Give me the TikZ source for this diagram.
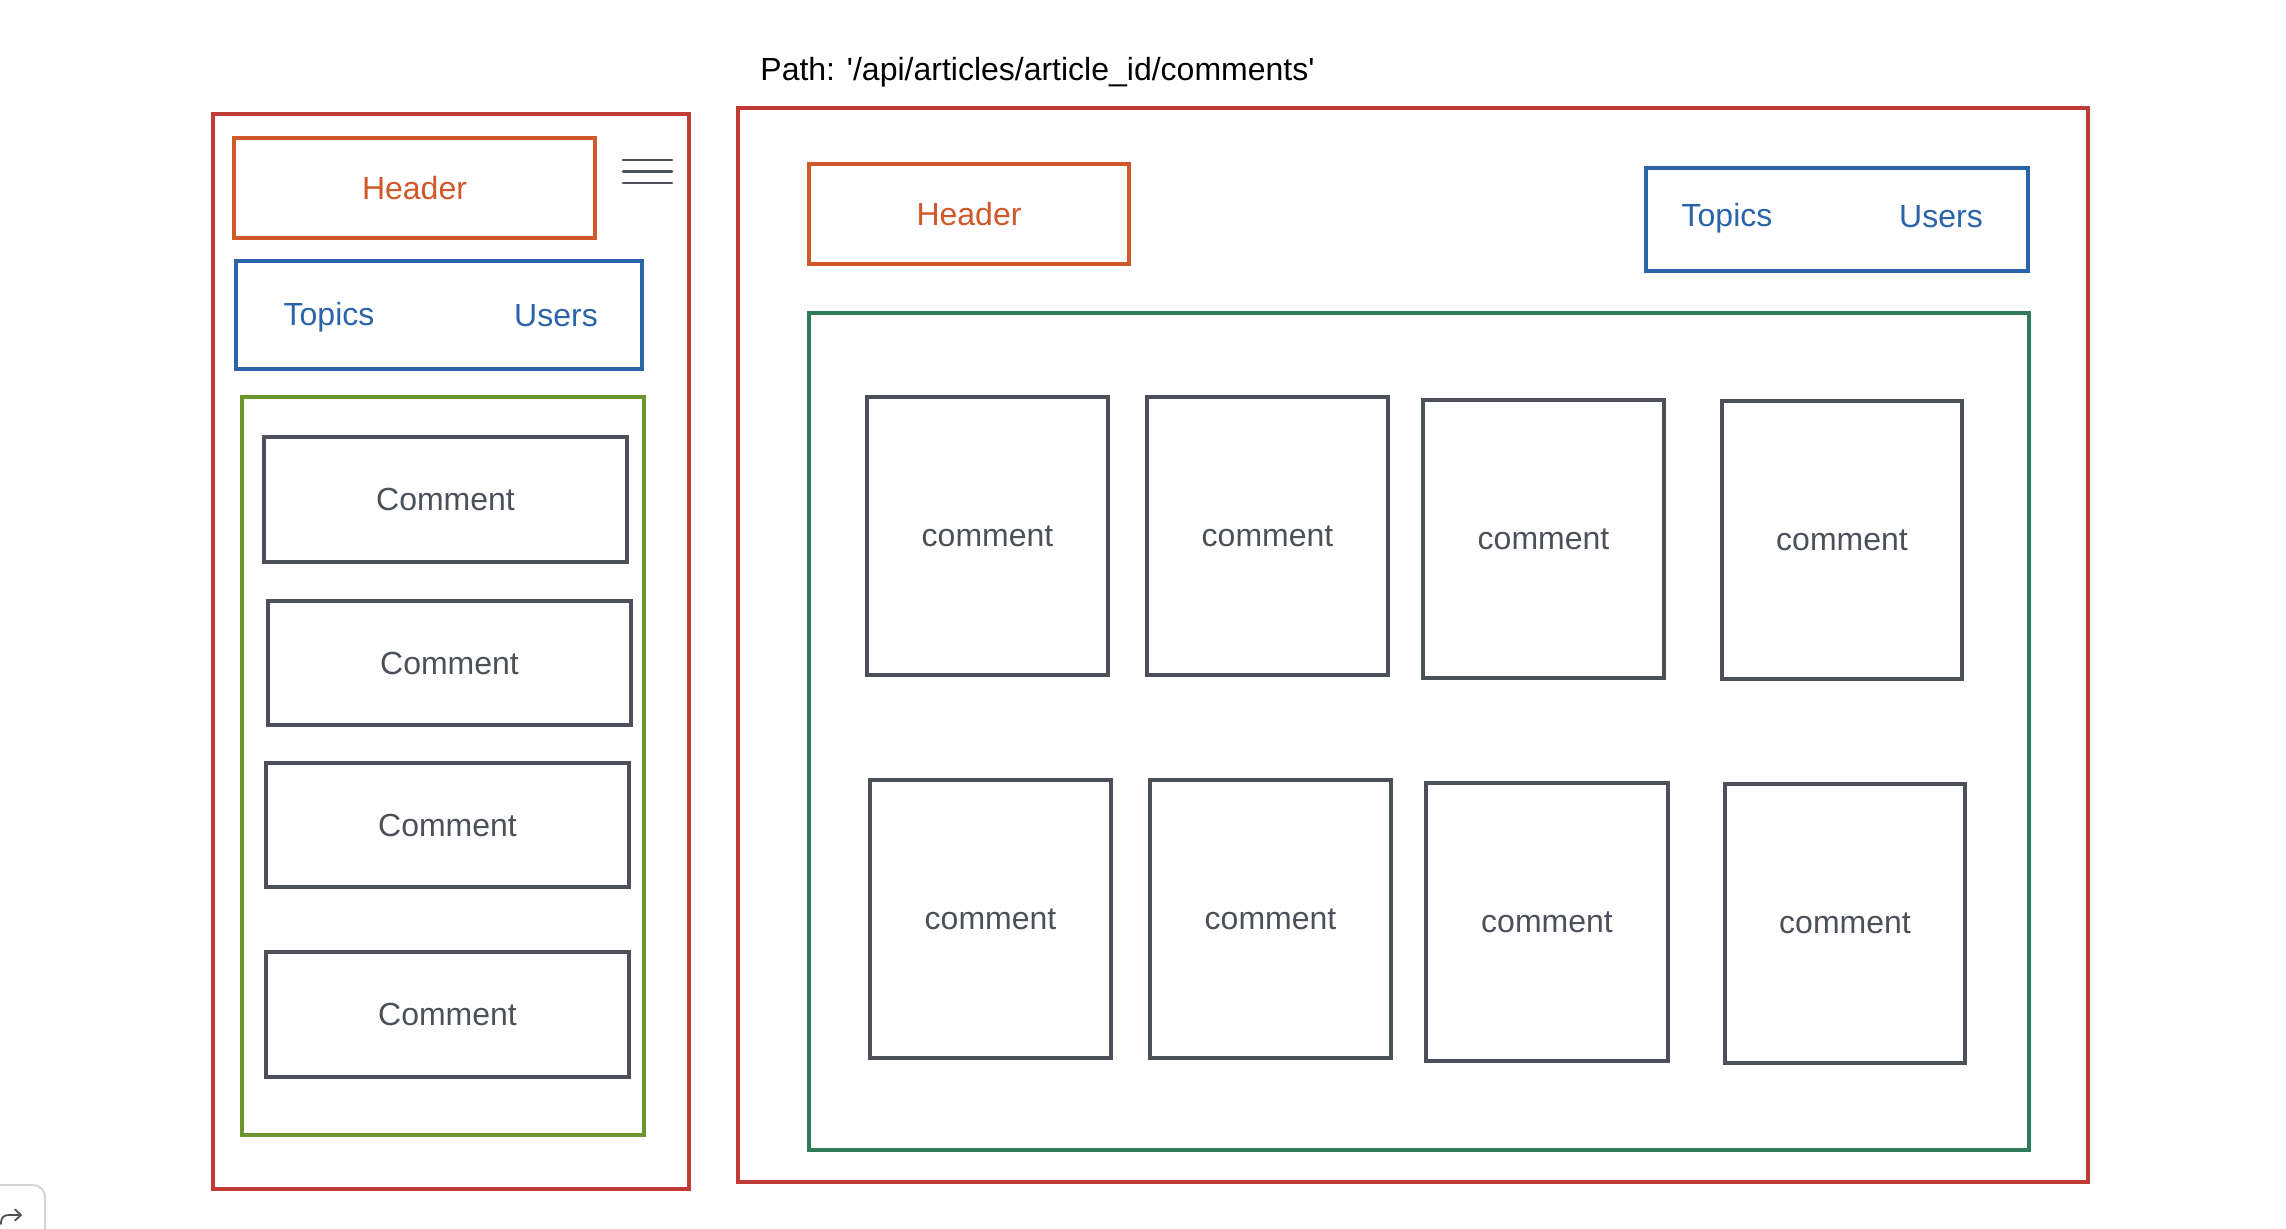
\documentclass[tikz,border=0pt]{standalone}
\usepackage{fontspec}
\setmainfont{Liberation Sans}[Ligatures=TeXOff]
\definecolor{pagered}{RGB}{192,58,54}
\definecolor{hdrorange}{RGB}{208,88,42}
\definecolor{navblue}{RGB}{44,100,170}
\definecolor{listgreen}{RGB}{106,150,45}
\definecolor{gridgreen}{RGB}{46,124,90}
\definecolor{cmtgray}{RGB}{76,81,89}
\definecolor{uigray}{RGB}{214,214,214}
\tikzset{
  frame/.style={draw, rectangle, line width=1.7pt, inner sep=0pt, outer sep=0pt},
  pageframe/.style={frame, draw=pagered},
  hdrbox/.style={frame, draw=hdrorange, text=hdrorange, text height=11.46pt, text depth=0pt},
  navbox/.style={frame, draw=navblue},
  navtext/.style={text=navblue, anchor=base, inner sep=0pt},
  listbox/.style={frame, draw=listgreen},
  gridbox/.style={frame, draw=gridgreen},
  cmtcap/.style={frame, draw=cmtgray, text=cmtgray, text height=11.46pt, text depth=0pt},
  cmtlow/.style={frame, draw=cmtgray, text=cmtgray, text height=10.3pt, text depth=0pt},
}
\newcommand\pbox[7]{\node[#1, minimum width={(#4-#2)*0.5pt}, minimum height={(#5-#3)*0.5pt}] (#6) at ({(#2+#4)/2},{(#3+#5)/2}) {#7};}
\begin{document}
\begin{tikzpicture}[x=0.5pt,y=-0.5pt, font=\fontsize{16}{19}\selectfont]
\clip (0,0) rectangle (2286,1228);
\fill[white] (0,0) rectangle (2286,1228);

% path title
\node[anchor=base west, inner sep=0pt] (path) at (760,80) {Path: '/api/articles/article\_id/comments'};

% ---------- mobile layout ----------
\pbox{pageframe}{213}{114}{689}{1189}{mobile}{}
\pbox{hdrbox}{234}{138}{595}{238}{mhdr}{Header}
\draw[cmtgray, line width=1.4pt, line cap=round] (623,160) -- (672,160) (623,171.5) -- (672,171.5) (623,183) -- (672,183);
\pbox{navbox}{236}{261}{642}{369}{mnav}{}
\node[navtext] (mtopics) at (329,325) {Topics};
\node[navtext] (musers) at (556,326.5) {Users};
\pbox{listbox}{242}{397}{644}{1135}{mlist}{}
\pbox{cmtcap}{264}{437}{627}{562}{mc1}{Comment}
\pbox{cmtcap}{268}{601}{631}{725}{mc2}{Comment}
\pbox{cmtcap}{266}{763}{629}{887}{mc3}{Comment}
\pbox{cmtcap}{266}{952}{629}{1077}{mc4}{Comment}

% ---------- desktop layout ----------
\pbox{pageframe}{738}{108}{2088}{1182}{desk}{}
\pbox{hdrbox}{809}{164}{1129}{264}{dhdr}{Header}
\pbox{navbox}{1646}{168}{2028}{271}{dnav}{}
\node[navtext] (dtopics) at (1727,226) {Topics};
\node[navtext] (dusers) at (1941,227.5) {Users};
\pbox{gridbox}{809}{313}{2029}{1150}{dgrid}{}
\pbox{cmtlow}{867}{397}{1108}{675}{dc1}{comment}
\pbox{cmtlow}{1147}{397}{1388}{675}{dc2}{comment}
\pbox{cmtlow}{1423}{400}{1664}{678}{dc3}{comment}
\pbox{cmtlow}{1722}{401}{1962}{679}{dc4}{comment}
\pbox{cmtlow}{870}{780}{1111}{1058}{dc5}{comment}
\pbox{cmtlow}{1150}{780}{1391}{1058}{dc6}{comment}
\pbox{cmtlow}{1426}{783}{1668}{1061}{dc7}{comment}
\pbox{cmtlow}{1725}{784}{1965}{1063}{dc8}{comment}

% ---------- corner UI fragment ----------
\draw[uigray, line width=1pt, rounded corners=6pt] (-10,1185) -- (45,1185) -- (45,1240);
\draw[cmtgray, line width=0.9pt, line cap=round, line join=round]
  (1,1224) .. controls (1,1217) and (4,1215) .. (9,1215) -- (21,1215)
  (15,1209.5) -- (21,1215) -- (15,1220.5);
\end{tikzpicture}
\end{document}
